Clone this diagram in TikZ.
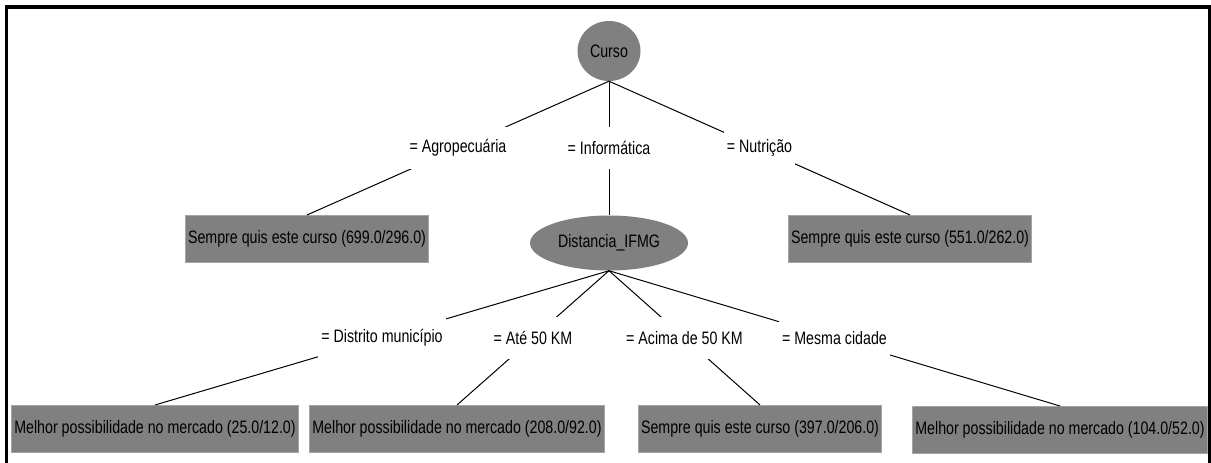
\documentclass[tikz,border=0pt]{standalone}
\usepackage{fontspec}
\setmainfont{Liberation Sans}[FakeStretch=0.79]
\usetikzlibrary{shapes.geometric}
\definecolor{nodegray}{RGB}{128,128,128}
\definecolor{edgegray}{RGB}{165,165,165}
\begin{document}
\begin{tikzpicture}[x=1pt,y=-1pt,
  every node/.style={font=\fontsize{18}{21}\selectfont, text=black},
  attr/.style={ellipse, fill=nodegray, inner sep=0pt},
  leaf/.style={rectangle, fill=nodegray, draw=edgegray, line width=1pt,
    inner xsep=3pt, inner ysep=0pt, minimum height=47pt},
  lbl/.style={fill=white, inner xsep=3pt, inner ysep=0pt, minimum height=42pt, pos=0.5},
  branch/.style={draw=black, line width=1pt}]
\useasboundingbox (0,0) rectangle (1211,463);
\clip (0,0) rectangle (1211,463);

% outer frame, open at the bottom edge of the page
\draw[line width=3.5pt] (6.5,7) rectangle (1209.5,490);

% root and inner test
\node[attr, minimum width=63pt, minimum height=60pt] (curso) at (609,51) {Curso};
\node[attr, minimum width=158pt, minimum height=55pt] (dist) at (609,243) {Distancia\_IFMG};

% leaves of the first level
\node[leaf] (agro) at (307,239) {Sempre quis este curso (699.0/296.0)};
\node[leaf] (nutri) at (910,239) {Sempre quis este curso (551.0/262.0)};

% leaves of the second level
\node[leaf] (l1) at (155,429) {Melhor possibilidade no mercado (25.0/12.0)};
\node[leaf] (l2) at (457,429) {Melhor possibilidade no mercado (208.0/92.0)};
\node[leaf] (l3) at (760,429) {Sempre quis este curso (397.0/206.0)};
\node[leaf] (l4) at (1060,430) {Melhor possibilidade no mercado (104.0/52.0)};

% branches with their conditions
\path[branch] (curso.south) -- node[lbl] {= Agropecuária} (agro.north);
\path[branch] (curso.south) -- node[lbl] {= Informática} (dist.north);
\path[branch] (curso.south) -- node[lbl] {= Nutrição} (nutri.north);

\path[branch] (dist.south) -- node[lbl] {= Distrito município} (l1.north);
\path[branch] (dist.south) -- node[lbl] {= Até 50 KM} (l2.north);
\path[branch] (dist.south) -- node[lbl] {= Acima de 50 KM} (l3.north);
\path[branch] (dist.south) -- node[lbl] {= Mesma cidade} (l4.north);
\end{tikzpicture}
\end{document}
